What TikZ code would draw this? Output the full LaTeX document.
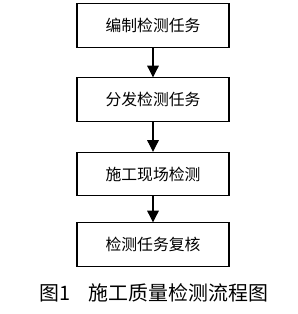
\documentclass[tikz,border=0pt]{standalone}
\usepackage{fontspec}
\newfontfamily\cjk{Noto Sans CJK SC}
\usetikzlibrary{arrows.meta}

\begin{document}
\begin{tikzpicture}[
			x=0.03cm, y=-0.03cm,
			step box/.style={
				draw,
				line width=0.9pt,
				align=center,
				minimum width=4.56cm,
				minimum height=1.3cm,
				font=\cjk\fontsize{13.5}{15}\selectfont,
				fill=none
			},
			>={Triangle[width=10pt,length=10pt]},
			flow/.style={->, line width=0.9pt}
			]
			\useasboundingbox (0,0) rectangle (297,314);
			
			\node[step box] (S1) at (153,25.5) {编制检测任务};
			\node[step box] (S2) at (153,99.5) {分发检测任务};
			\node[step box] (S3) at (153,174) {施工现场检测};
			\node[step box] (S4) at (153,244.5) {检测任务复核};
			
			\node[font=\cjk\fontsize{17}{19}\selectfont] (cap) at (154,293) {图1\hspace{0.9em}施工质量检测流程图};
			
			\draw[flow] (S1) -- (S2);
			\draw[flow] (S2) -- (S3);
			\draw[flow] (S3) -- (S4);
			
		\end{tikzpicture}
\end{document}
